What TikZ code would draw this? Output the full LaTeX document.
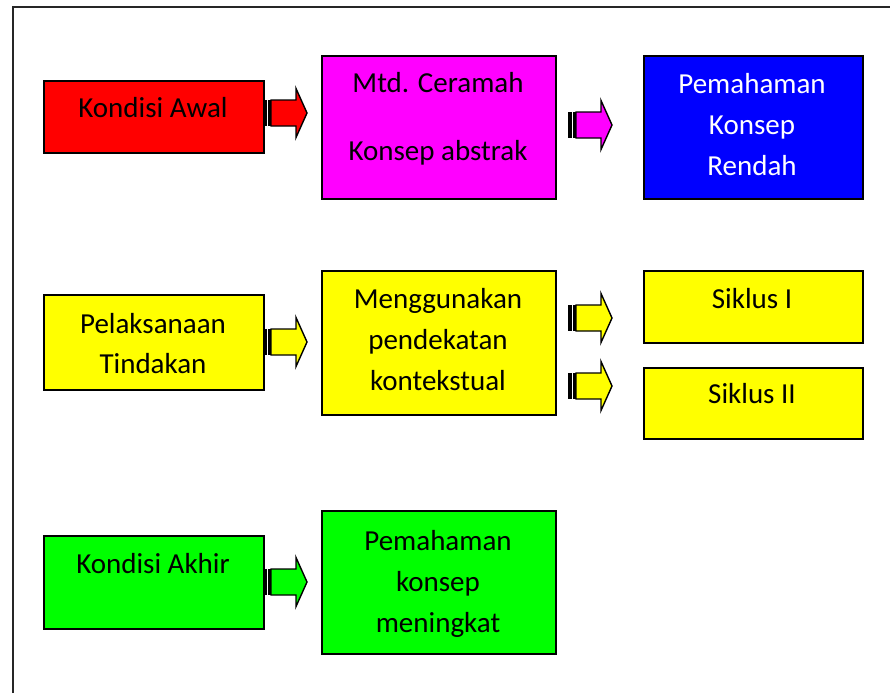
\documentclass[tikz,border=0pt]{standalone}
\usepackage{fontspec}
\setmainfont{Carlito}
\definecolor{cred}{RGB}{255,0,0}
\definecolor{cmag}{RGB}{255,0,255}
\definecolor{cblue}{RGB}{0,0,255}
\definecolor{cyel}{RGB}{255,255,0}
\definecolor{cgreen}{RGB}{0,255,0}
\begin{document}
\begin{tikzpicture}[x=1pt,y=-1pt,
  box/.style={draw=black,line width=1.6pt,inner sep=0pt,anchor=north west},
  lbl/.style={anchor=base,inner sep=0pt,font=\fontsize{29}{35}\selectfont},
  pics/sarrow/.style={code={
    \fill[black] (0,-13) rectangle (3.5,13);
    \fill[black] (5,-13) rectangle (8,13);
    \filldraw[fill=#1,draw=black,line width=1.4pt,line join=miter]
      (8,-13)--(33,-13)--(33,-24.5)--(44,0)--(33,24.5)--(33,13)--(8,13)--cycle;
  }}]
\useasboundingbox (0,0) rectangle (890,693);
\draw[line width=2pt,draw=black!85] (13,693) -- (13,7) -- (890,7);

% boxes
\node[box,fill=cred,minimum width=220pt,minimum height=72pt] (ka) at (43,80) {};
\node[box,fill=cmag,minimum width=234pt,minimum height=143pt] (mc) at (321,55) {};
\node[box,fill=cblue,minimum width=219pt,minimum height=143pt] (pr) at (643,55) {};
\node[box,fill=cyel,minimum width=220pt,minimum height=95pt] (pt) at (43,294) {};
\node[box,fill=cyel,minimum width=234pt,minimum height=144pt] (mg) at (321,270) {};
\node[box,fill=cyel,minimum width=219pt,minimum height=72pt] (s1) at (643,270) {};
\node[box,fill=cyel,minimum width=219pt,minimum height=71pt] (s2) at (643,367) {};
\node[box,fill=cgreen,minimum width=220pt,minimum height=93pt] (kak) at (43,535) {};
\node[box,fill=cgreen,minimum width=234pt,minimum height=143pt] (pm) at (321,510) {};

% texts
\node[lbl] (tka) at (153,117) {Kondisi Awal};
\node[lbl] (tmc1) at (438,92) {Mtd. Ceramah};
\node[lbl] (tmc2) at (438,160) {Konsep abstrak};
\node[lbl,text=white] (tpr1) at (752,93) {Pemahaman};
\node[lbl,text=white] (tpr2) at (752,134) {Konsep};
\node[lbl,text=white] (tpr3) at (752,175) {Rendah};
\node[lbl] (tpt1) at (153,333) {Pelaksanaan};
\node[lbl] (tpt2) at (153,373) {Tindakan};
\node[lbl] (tmg1) at (438,308) {Menggunakan};
\node[lbl] (tmg2) at (438,349) {pendekatan};
\node[lbl] (tmg3) at (438,390) {kontekstual};
\node[lbl] (ts1) at (752,308) {Siklus I};
\node[lbl] (ts2) at (752,403) {Siklus II};
\node[lbl] (tkak) at (153,573) {Kondisi Akhir};
\node[lbl] (tpm1) at (438,550) {Pemahaman};
\node[lbl] (tpm2) at (438,591) {konsep};
\node[lbl] (tpm3) at (438,632) {meningkat};

% striped arrows
\pic at (263,113) {sarrow=cred};
\pic at (568,125) {sarrow=cmag};
\pic at (263,342) {sarrow=cyel};
\pic at (568,318) {sarrow=cyel};
\pic at (568,386) {sarrow=cyel};
\pic at (263,582) {sarrow=cgreen};
\end{tikzpicture}
\end{document}
